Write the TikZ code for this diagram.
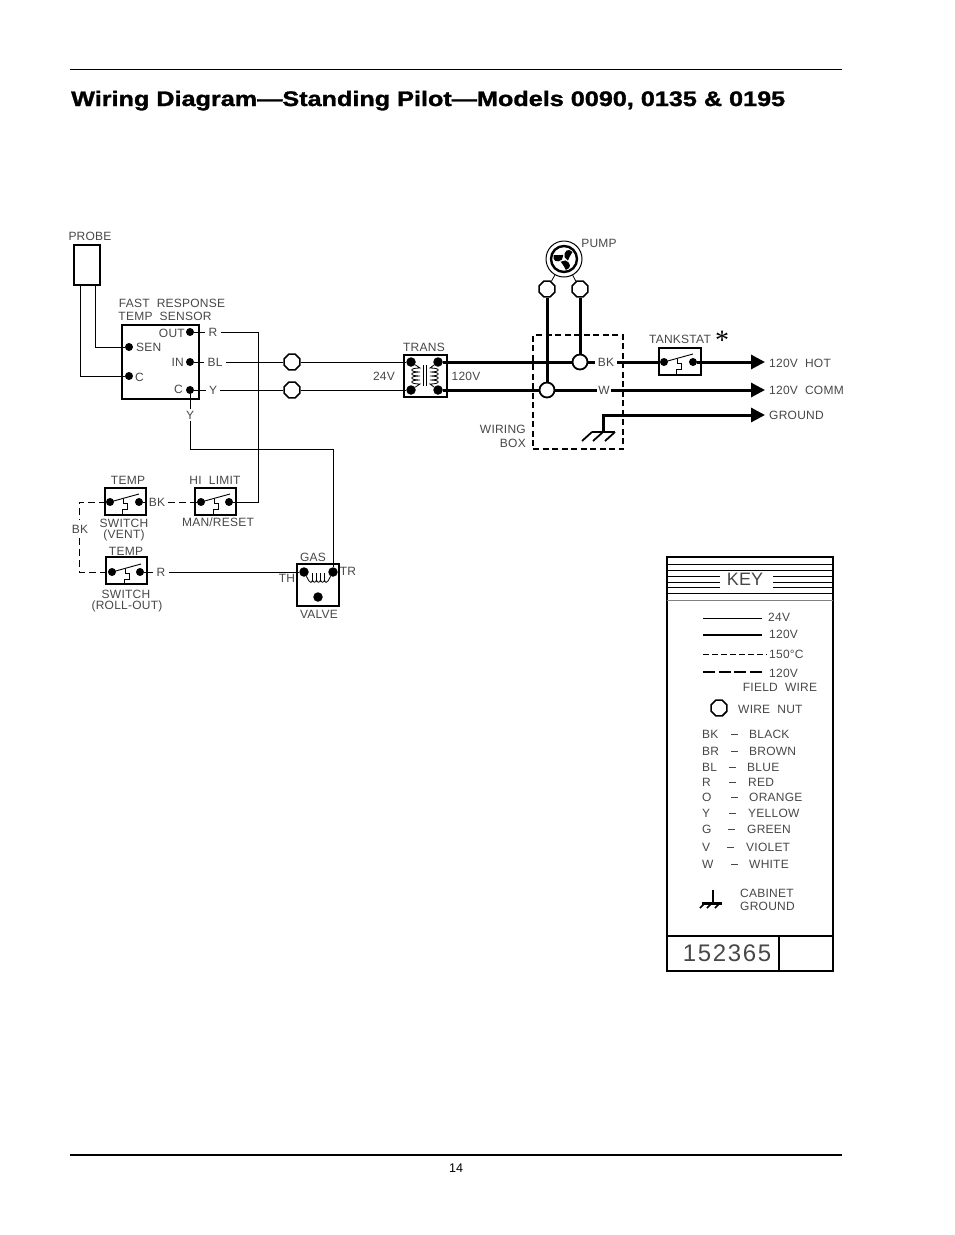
\documentclass[tikz,border=0pt]{standalone}
\usepackage{fontspec}
\setmainfont{Liberation Sans}
\newfontfamily\titlefont[FakeStretch=1.2,FakeBold=1.5]{Liberation Sans Bold}
\newfontfamily\cadfont[LetterSpace=2,WordSpace=2]{Liberation Sans}
\newfontfamily\numfont[LetterSpace=7]{Liberation Sans}
\newfontfamily\starfont{Liberation Serif}
\usetikzlibrary{arrows.meta,shapes.geometric}
\definecolor{ink}{gray}{0.28}
\tikzset{
  x=1pt,y=-1pt,
  thinw/.style={line width=1pt,black},
  thickw/.style={line width=3pt,black},
  dashw/.style={line width=1pt,black,dash pattern=on 7pt off 4pt},
  boxn/.style={draw=black,line width=1.8pt,fill=white,inner sep=0pt,outer sep=0pt,anchor=north west},
  dot/.style={circle,fill=black,inner sep=0pt,minimum size=8pt},
  bigdot/.style={circle,fill=black,inner sep=0pt,minimum size=9.5pt},
  junc/.style={circle,draw=black,line width=1.8pt,fill=white,inner sep=0pt,minimum size=15pt},
  nut/.style={regular polygon,regular polygon sides=8,draw=black,line width=1.6pt,fill=white,inner sep=0pt,minimum size=17pt},
  lbl/.style={text=ink,font=\cadfont\fontsize{12}{12}\selectfont,inner sep=1.5pt},
  lbll/.style={lbl,anchor=west,inner sep=0pt},
  arroww/.style={thickw,-{Triangle[length=14pt,width=14pt]}},
  thermo/.pic={
    \draw[line width=0.9pt] (0,0)--(29,-8);
    \draw[line width=0.9pt] (13,-3)--(13,1.5)--(17,1.5)--(17,7)--(12,7)--(12,12);
  },
}
\begin{document}
\begin{tikzpicture}
\useasboundingbox (0,0) rectangle (954,1235);
% page furniture
\coordinate (ruleTL) at (70,69); \coordinate (ruleTR) at (842,69);
\coordinate (ruleBL) at (70,1155); \coordinate (ruleBR) at (842,1155);
\draw[line width=1pt] (ruleTL)--(ruleTR);
\draw[line width=2pt] (ruleBL)--(ruleBR);
\node[anchor=base west,inner sep=0pt,font=\titlefont\fontsize{21}{21}\selectfont] (title) at (71,106) {Wiring Diagram—Standing Pilot—Models 0090, 0135 \& 0195};
\node[font=\fontsize{12.5}{12.5}\selectfont,inner sep=0pt] (pagenum) at (456,1168) {14};

% probe and sensor
\node[boxn,minimum width=26pt,minimum height=40pt] (probe) at (74,245) {};
\node[lbl] (probeL) at (90,236) {PROBE};
\node[boxn,minimum width=77pt,minimum height=74pt] (sensor) at (122,325) {};
\node[lbl] (fastL) at (172,303) {FAST RESPONSE};
\node[lbl] (tempsL) at (165,316) {TEMP SENSOR};
\node[dot] (dSen) at (129,347) {};
\node[dot] (dC) at (129,376) {};
\node[dot] (dOut) at (190,332) {};
\node[dot] (dIn) at (190,362) {};
\node[dot] (dCr) at (190,390) {};
\node[lbll] (senL) at (136,347) {SEN};
\node[lbll] (cL) at (135,377) {C};
\node[lbl,anchor=east,inner sep=0pt] (outL) at (185,333) {OUT};
\node[lbl,anchor=east,inner sep=0pt] (inL) at (184,362) {IN};
\node[lbl,anchor=east,inner sep=0pt] (crL) at (183,389) {C};
\node[lbl,inner sep=3pt] (wR) at (213,332) {R};
\node[lbl,inner sep=3pt] (wBL) at (215,362) {BL};
\node[lbl,inner sep=3pt] (wY) at (213,390) {Y};
\node[lbl,inner sep=2pt] (wYd) at (190,415) {Y};
\coordinate (pa) at (80,285); \coordinate (pb) at (95,285);
\draw[thinw] (pa)|-(dC);
\draw[thinw] (pb)|-(dSen);

% nuts
\node[nut] (nutA) at (292,362) {};
\node[nut] (nutB) at (292,390) {};

% transformer
\node[boxn,minimum width=43pt,minimum height=42pt] (trans) at (404,355) {};
\node[bigdot] (tTL) at (411,362) {};
\node[bigdot] (tTR) at (438,362) {};
\node[bigdot] (tBL) at (411,390) {};
\node[bigdot] (tBR) at (438,390) {};
\node[lbl] (transL) at (424,347) {TRANS};
\node[lbl] (v24) at (384,376) {24V};
\node[lbl] (v120) at (466,376) {120V};
\draw[line width=.8pt] (tTL) -- (420,368)
  .. controls (409,368) and (409,372) .. (420,372)
  .. controls (409,372) and (409,376) .. (420,376)
  .. controls (409,376) and (409,380) .. (420,380)
  .. controls (409,380) and (409,384) .. (420,384) -- (tBL);
\draw[line width=.8pt] (tTR) -- (430,368)
  .. controls (441,368) and (441,372) .. (430,372)
  .. controls (441,372) and (441,376) .. (430,376)
  .. controls (441,376) and (441,380) .. (430,380)
  .. controls (441,380) and (441,384) .. (430,384) -- (tBR);
\draw[line width=.9pt] (423,365)--(423,386) (426,365)--(426,386);

% pump
\node[circle,draw=black,line width=1pt,minimum size=36pt,inner sep=0pt] (pumpO) at (564,259) {};
\node[circle,draw=black,line width=2.4pt,minimum size=26pt,inner sep=0pt] (pumpI) at (564,259) {};
\foreach \a in {0,120,240}{
  \fill[black,rotate around={\a:(564,259)}] (564.5,257) .. controls (563.5,251) and (568.5,247.5) .. (572.5,252)
     .. controls (571,254) and (569.5,257) .. (568,260.5) -- cycle;
}
\node[lbl] (pumpL) at (599,243) {PUMP};
\node[nut] (nutL) at (547,289) {};
\node[nut] (nutR) at (580,289) {};
\draw[line width=.8pt] (pumpO) -- (nutL);
\draw[line width=.8pt] (pumpO) -- (nutR);

% wiring box
\node[draw=black,line width=1.3pt,dash pattern=on 6pt off 3.5pt,minimum width=90pt,minimum height=114pt,inner sep=0pt,outer sep=0pt,anchor=north west] (wbox) at (533,335) {};
\node[lbl,anchor=east,inner sep=0pt] (wb1) at (526,429) {WIRING};
\node[lbl,anchor=east,inner sep=0pt] (wb2) at (526,443) {BOX};
\node[junc] (jBK) at (580,362) {};
\node[junc] (jW) at (547,390) {};
\node[lbl,inner sep=3pt] (wBK) at (606,362) {BK};
\node[lbl,inner sep=1pt] (wW) at (604,390) {W};

% tankstat
\node[boxn,minimum width=42pt,minimum height=27pt] (tank) at (659,348) {};
\node[dot] (tsL) at (664,362) {};
\node[dot] (tsR) at (693,362) {};
\pic at (664,362) {thermo};
\node[lbl] (tankL) at (680,339) {TANKSTAT};
\node[inner sep=0pt,font=\starfont\fontsize{28}{28}\selectfont] (star) at (722,340) {*};
\coordinate (endH) at (765,362);
\coordinate (endC) at (765,390);
\coordinate (endG) at (765,415);
\node[lbll] (hotL) at (769,363) {120V  HOT};
\node[lbll] (commL) at (769,390) {120V  COMM};
\node[lbll] (grL) at (769,415) {GROUND};

% 120V wires
\draw[thickw] (tTR)--(jBK);
\draw[thickw] (jBK)--(wBK);
\draw[thickw] (wBK)--(tsL);
\draw[arroww] (tsR)--(endH);
\draw[thickw] (tBR)--(jW);
\draw[thickw] (jW)--(wW);
\draw[arroww] (wW)--(endC);
\draw[thickw] (nutL)--(jW);
\draw[thickw] (nutR)--(jBK);
% ground
\coordinate (gnd) at (603,432);
\draw[arroww] (gnd)|-(endG);
\draw[line width=2pt] (592,432)--(615,432);
\draw[line width=1.8pt] (592,432)--(582,441) (603,432)--(593,441) (615,432)--(605,441);

% 24V wires
\draw[thinw] (dOut)--(wR);
\draw[thinw] (dIn)--(wBL);
\draw[thinw] (dCr)--(wY);
\draw[thinw] (wBL)--(nutA);
\draw[thinw] (wY)--(nutB);
\draw[thinw] (nutA)--(tTL);
\draw[thinw] (nutB)--(tBL);
\draw[thinw] (dCr)--(wYd);

% switches
\node[boxn,minimum width=41pt,minimum height=27pt] (swV) at (105,488) {};
\node[dot] (vL) at (110,502) {};
\node[dot] (vR) at (139,502) {};
\pic at (110,502) {thermo};
\node[boxn,minimum width=41pt,minimum height=27pt] (swH) at (195,488) {};
\node[dot] (hL) at (201,502) {};
\node[dot] (hR) at (229,502) {};
\pic at (201,502) {thermo};
\node[boxn,minimum width=41pt,minimum height=27pt] (swR) at (106,557) {};
\node[dot] (rL) at (112,572) {};
\node[dot] (rR) at (140,572) {};
\pic at (112,572) {thermo};
\node[lbl] (t1) at (128,480) {TEMP};
\node[lbl] (hl) at (215,480) {HI LIMIT};
\node[lbl] (s1) at (124,523) {SWITCH};
\node[lbl] (s2) at (124,535) {(VENT)};
\node[lbl] (mr) at (218,522) {MAN/RESET};
\node[lbl] (t2) at (126,551) {TEMP};
\node[lbl] (s3) at (126,594) {SWITCH};
\node[lbl] (s4) at (127,606) {(ROLL-OUT)};
\node[lbl,inner sep=3pt] (bk1) at (157,502) {BK};
\node[lbl,inner sep=5pt] (bk2) at (80,529) {BK};
\node[lbl,inner sep=3pt] (wR2) at (161,572) {R};

% gas valve
\node[boxn,minimum width=42pt,minimum height=42pt] (gas) at (297,564) {};
\node[bigdot] (th) at (304,572) {};
\node[bigdot] (tr) at (333,572) {};
\node[bigdot] (gv) at (318,597) {};
\node[lbl] (gasL) at (313,557) {GAS};
\node[lbl] (valveL) at (319,614) {VALVE};
\node[lbl] (thL) at (287,578) {TH};
\node[lbl] (trL) at (348,571) {TR};
\draw[line width=.8pt] (th) -- (309,581)
  .. controls (310,583) and (312,583) .. (312.5,580) -- (312.5,573) -- (312.5,580)
  .. controls (313,583) and (316,583) .. (316.5,580) -- (316.5,573) -- (316.5,580)
  .. controls (317,583) and (320,583) .. (320.5,580) -- (320.5,573) -- (320.5,580)
  .. controls (321,583) and (324,583) .. (324.5,580) -- (324.5,573) -- (324.5,580)
  .. controls (325,583) and (327,583) .. (328,581) -- (tr);

% control wires
\coordinate (c1) at (258,332);
\coordinate (c2) at (190,449);
\coordinate (c3) at (333,449);
\draw[thinw] (wR)--(c1)--(c1|-hR)--(hR);
\draw[thinw] (wYd)--(c2)--(c3)--(tr);
\draw[dashw] (vR)--(bk1);
\draw[dashw] (bk1)--(hL);
\coordinate (c4) at (79,502);
\coordinate (c5) at (79,572);
\draw[dashw] (vL)--(c4)--(c4|-bk2.north);
\draw[dashw] (c5|-bk2.south)--(c5)--(rL);
\draw[thinw] (rR)--(wR2);
\draw[thinw] (wR2)--(th);

% key
\node[draw=black,line width=2pt,minimum width=166pt,minimum height=414pt,inner sep=0pt,outer sep=0pt,anchor=north west] (key) at (667,557) {};
\node[lbl,font=\fontsize{18}{18}\selectfont] (keyL) at (745,579) {KEY};
\foreach \yy in {564,570,593}{\draw[line width=.9pt] (667,\yy)--(833,\yy);}
\foreach \yy in {576,582,587}{\draw[line width=.9pt] (667,\yy)--(720,\yy) (773,\yy)--(833,\yy);}
\draw[line width=1pt,gray] (667,600)--(833,600);
\coordinate (l1a) at (703,618); \coordinate (l1b) at (762,618);
\coordinate (l2a) at (703,635); \coordinate (l2b) at (762,635);
\coordinate (l3a) at (703,654); \coordinate (l3b) at (767,654);
\coordinate (l4a) at (703,672); \coordinate (l4b) at (762,672);
\draw[thinw] (l1a)--(l1b);
\draw[line width=2pt] (l2a)--(l2b);
\draw[line width=1pt,dash pattern=on 6pt off 3pt] (l3a)--(l3b);
\draw[line width=2pt,dash pattern=on 12pt off 3.5pt] (l4a)--(l4b);
\node[lbll] (k1) at (768,617) {24V};
\node[lbll] (k2) at (769,634) {120V};
\node[lbll] (k3) at (769,654) {150°C};
\node[lbll] (k4) at (769,673) {120V};
\node[lbl] (k5) at (780,687) {FIELD WIRE};
\node[nut] (knut) at (719,708) {};
\node[lbll] (k6) at (738,709) {WIRE NUT};
\foreach \yy/\cc/\dx/\nm/\nx in {734/BK/731/BLACK/749,751/BR/731/BROWN/749,767/BL/729/BLUE/747,782/R/729/RED/748,797/O/731/ORANGE/749,813/Y/729/YELLOW/748,829/G/728/GREEN/747,847/V/727/VIOLET/746,864/W/731/WHITE/749}{
  \node[lbll] (c\cc) at (702,\yy) {\cc};
  \coordinate (a\cc) at (\dx,\yy); \coordinate (b\cc) at ({\dx+7},\yy);
  \draw[line width=.9pt,ink] (a\cc)--(b\cc);
  \node[lbll] (n\cc) at (\nx,\yy) {\nm};
}
\coordinate (cg) at (713,890);
\draw[line width=1.4pt] (cg)--(713,903);
\draw[line width=2.2pt] (702,903.5)--(722,903.5);
\draw[line width=1.6pt] (705,903)--(700,908) (712,903)--(707,908) (720,903)--(715,908);
\node[lbll] (cab1) at (740,893) {CABINET};
\node[lbll] (cab2) at (740,906) {GROUND};
\coordinate (p1) at (667,936); \coordinate (p2) at (833,936);
\coordinate (p3) at (779,936); \coordinate (p4) at (779,971);
\draw[line width=2pt] (p1)--(p2);
\draw[line width=2pt] (p3)--(p4);
\node[lbl,font=\numfont\fontsize{24}{24}\selectfont,text=ink] (num) at (727,953) {152365};
\end{tikzpicture}
\end{document}
